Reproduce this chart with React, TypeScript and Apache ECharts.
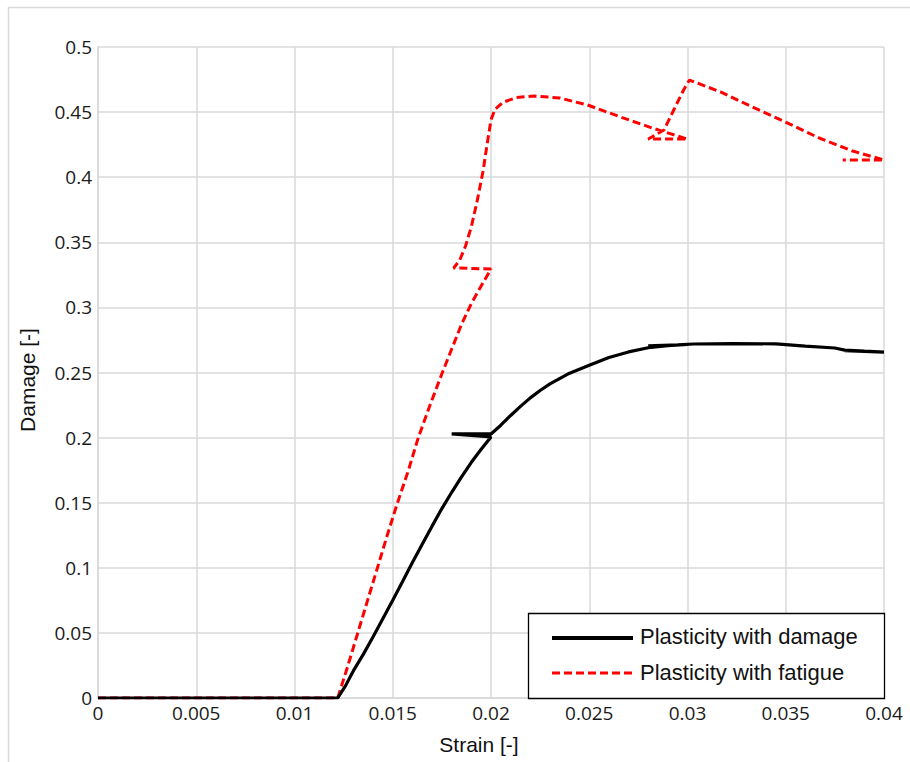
import React, { useEffect, useRef } from "react";
import * as echarts from "echarts";

const xTicks = { min: 0, max: 0.04, interval: 0.005 };
const yTicks = { min: 0, max: 0.5, interval: 0.05 };

const seriesNames = ["Plasticity with damage", "Plasticity with fatigue"];
const xTitle = "Strain [-]";
const yTitle = "Damage [-]";

const damageData: [number, number][] = [
  [0, 0], [0.0122, 0], [0.0126, 0.0095], [0.013, 0.021], [0.0135, 0.0335],
  [0.014, 0.047], [0.0145, 0.061], [0.015, 0.075], [0.0155, 0.0895],
  [0.016, 0.104], [0.0165, 0.118], [0.017, 0.132], [0.0175, 0.1455],
  [0.018, 0.158], [0.0185, 0.1698], [0.019, 0.181], [0.0195, 0.191],
  [0.02, 0.2005],
  [0.018, 0.2028], [0.02, 0.2028], [0.0205, 0.2095], [0.021, 0.217],
  [0.0215, 0.224], [0.022, 0.2305], [0.0225, 0.2362], [0.023, 0.2412],
  [0.024, 0.2495], [0.025, 0.2555], [0.026, 0.2615], [0.027, 0.2658],
  [0.028, 0.269], [0.029, 0.2706], [0.03, 0.2715],
  [0.028, 0.2705], [0.0295, 0.2712], [0.0303, 0.2719], [0.0323, 0.2722],
  [0.0345, 0.272], [0.036, 0.2703], [0.0375, 0.2688], [0.038, 0.2672],
  [0.039, 0.2664], [0.04, 0.2657],
  [0.038, 0.2668], [0.04, 0.2657],
];

const fatigueData: [number, number][] = [
  [0, 0], [0.0122, 0], [0.0127, 0.024], [0.0132, 0.049], [0.0137, 0.074],
  [0.0142, 0.099], [0.0147, 0.124], [0.0152, 0.148], [0.0158, 0.175],
  [0.0163, 0.2], [0.0169, 0.225], [0.0175, 0.249], [0.018, 0.268],
  [0.0185, 0.287], [0.019, 0.303], [0.0195, 0.3165], [0.02, 0.3295],
  [0.0181, 0.3303], [0.0184, 0.336], [0.0187, 0.347], [0.019, 0.362],
  [0.0193, 0.382], [0.0196, 0.405], [0.0198, 0.425], [0.02, 0.444],
  [0.0202, 0.452], [0.0206, 0.4575], [0.0213, 0.4612], [0.0222, 0.4624],
  [0.0235, 0.4608], [0.0249, 0.4555], [0.0266, 0.4462], [0.0282, 0.4378],
  [0.03, 0.4293],
  [0.028, 0.4293], [0.0288, 0.4362], [0.0293, 0.4516], [0.0298, 0.467],
  [0.0301, 0.4746], [0.0317, 0.4654], [0.0333, 0.4539], [0.0351, 0.4416],
  [0.0367, 0.4301], [0.0384, 0.4201], [0.04, 0.4132],
  [0.0379, 0.4132],
];

const gridColor = "#d9d9d9";
const labelFont = "'Open Sans', 'Liberation Sans', sans-serif";
const textFont = "'Liberation Sans', Arial, sans-serif";
const damageColor = "#000000";
const fatigueColor = "#ff0000";
const dash = [8, 4];

export default function App() {
  const ref = useRef<HTMLDivElement>(null);
  useEffect(() => {
    if (!ref.current) return;
    const chart = echarts.init(ref.current, undefined, { renderer: "svg" });
    const lx = 528, ly = 613, lw = 356, lh = 85;
    const Z = 100;
    chart.setOption({
      animation: false,
      backgroundColor: "#ffffff",
      graphic: [
        {
          type: "rect",
          shape: { x: 8.5, y: 7.5, width: 960, height: 800 },
          style: { fill: "none", stroke: gridColor, lineWidth: 1.5 },
          z: -1,
          silent: true,
        },
        {
          type: "text",
          x: 479,
          y: 744,
          style: {
            text: xTitle, fill: "#111", font: `21px ${textFont}`,
            textAlign: "center", textVerticalAlign: "middle",
          },
        },
        {
          type: "text",
          x: 27,
          y: 380,
          rotation: Math.PI / 2,
          style: {
            text: yTitle, fill: "#111", font: `21px ${textFont}`,
            textAlign: "center", textVerticalAlign: "middle",
          },
        },
        {
          type: "rect",
          z: Z,
          shape: { x: lx + 0.5, y: ly + 0.5, width: lw, height: lh },
          style: { fill: "#ffffff", stroke: "#000", lineWidth: 1.3 },
        },
        {
          type: "line",
          z: Z + 1,
          shape: { x1: lx + 24, y1: ly + 25, x2: lx + 105, y2: ly + 25 },
          style: { stroke: damageColor, lineWidth: 4 },
        },
        {
          type: "line",
          z: Z + 1,
          shape: { x1: lx + 24, y1: ly + 60, x2: lx + 105, y2: ly + 60 },
          style: { stroke: fatigueColor, lineWidth: 3, lineDash: dash },
        },
        {
          type: "text",
          z: Z + 1,
          x: lx + 112,
          y: ly + 23,
          style: {
            text: seriesNames[0], fill: "#111", font: `22px ${textFont}`,
            textVerticalAlign: "middle",
          },
        },
        {
          type: "text",
          z: Z + 1,
          x: lx + 112,
          y: ly + 59,
          style: {
            text: seriesNames[1], fill: "#111", font: `22px ${textFont}`,
            textVerticalAlign: "middle",
          },
        },
      ],
      grid: { left: 98, top: 47, right: 26, bottom: 64, containLabel: false },
      xAxis: {
        type: "value",
        min: xTicks.min,
        max: xTicks.max,
        interval: xTicks.interval,
        axisLine: { show: true, lineStyle: { color: gridColor, width: 1.5 } },
        axisTick: { show: false },
        splitLine: { show: true, lineStyle: { color: gridColor, width: 1.5 } },
        axisLabel: { fontFamily: labelFont, fontSize: 19, color: "#1a1a1a", margin: 5 },
      },
      yAxis: {
        type: "value",
        min: yTicks.min,
        max: yTicks.max,
        interval: yTicks.interval,
        axisLine: { show: true, lineStyle: { color: gridColor, width: 1.5 } },
        axisTick: { show: false },
        splitLine: { show: true, lineStyle: { color: gridColor, width: 1.5 } },
        axisLabel: { fontFamily: labelFont, fontSize: 19, color: "#1a1a1a", margin: 6 },
      },
      series: [
        {
          name: seriesNames[0],
          type: "line",
          data: damageData,
          symbol: "none",
          z: 4,
          lineStyle: { color: damageColor, width: 3.2 },
        },
        {
          name: seriesNames[1],
          type: "line",
          data: fatigueData,
          symbol: "none",
          z: 3,
          lineStyle: { color: fatigueColor, width: 3, type: dash },
        },
      ],
    });
    return () => chart.dispose();
  }, []);
  return <div ref={ref} style={{ width: 910, height: 762, position: "absolute", left: 0, top: 0 }} />;
}
